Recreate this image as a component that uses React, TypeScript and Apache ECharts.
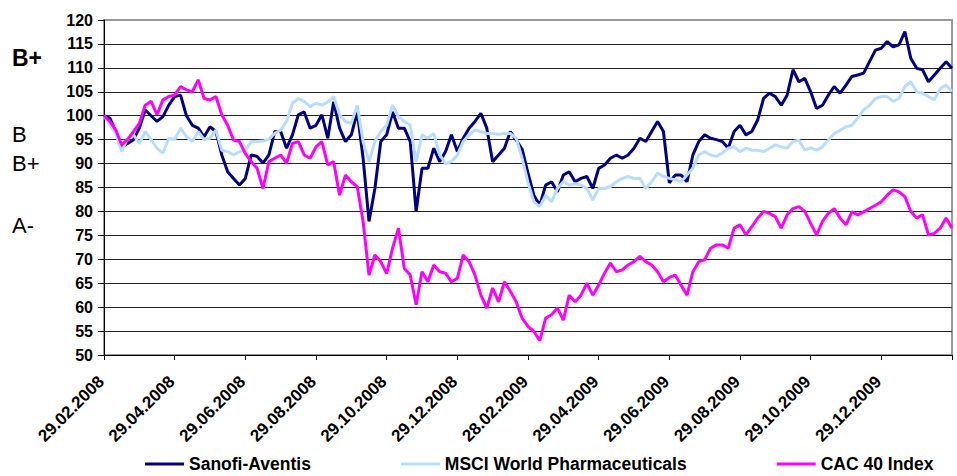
import React, { useEffect, useRef } from "react";
import * as echarts from "echarts";

const tickLabels = [
  "29.02.2008", "29.04.2008", "29.06.2008", "29.08.2008", "29.10.2008", "29.12.2008",
  "28.02.2009", "29.04.2009", "29.06.2009", "29.08.2009", "29.10.2009", "29.12.2009",
];

const seriesNames = ["Sanofi-Aventis", "MSCI World Pharmaceuticals", "CAC 40 Index"];

const sanofi = [
  100, 99.5, 96.7, 93.5, 94.2, 95, 97.4, 101.2, 100, 98.8, 99.8, 102.2, 104,
  104.3, 100, 98, 97.4, 95.6, 97.7, 96.7, 91.8, 88.3, 86.9, 85.5, 86.9,
  91.8, 91.5, 90.1, 91.8, 96.7, 96.7, 93.2, 96, 100.2, 100.8, 97.4, 98,
  100.2, 95.3, 102.9, 97.4, 94.6, 96, 100.8, 91.1, 77.9, 84.8, 94.6, 96,
  100.8, 97.4, 97.4, 94.6, 80, 89, 89, 93.2, 90.4, 92.5, 96, 92.5,
  95.3, 97.4, 98.8, 100.5, 97.4, 90.4, 91.8, 93.2, 96.7, 94.9, 93, 88,
  83.4, 81.3, 85.5, 86.2, 84.1, 87.6, 88.3, 86.2, 86.9, 87.3, 84.8, 89,
  89.7, 91.1, 91.8, 91.1, 91.8, 93.2, 95.3, 94.6, 96.7, 98.8, 96.7, 86,
  87.6, 87.6, 86.2, 91.8, 94.6, 96, 95.3, 95, 94.6, 93.2, 96.7, 98,
  96, 96.7, 99.1, 103.6, 104.7, 104, 102.2, 104.3, 109.6, 107.1, 107.8, 105,
  101.5, 102.2, 104.3, 106.1, 104.7, 106.4, 108.2, 108.5, 108.9, 111.3, 113.7, 114.1,
  115.5, 114.4, 114.8, 117.6, 112, 109.9, 109.6, 107.1, 108.5, 109.9, 111.3, 109.9,
];

const msci = [
  100, 98, 96.3, 92.5, 95.3, 96, 94.2, 96.7, 95, 93.2, 92.2, 95.3, 95,
  97.4, 95.6, 94.6, 96.7, 95, 95.3, 97, 92.8, 92.5, 91.8, 92.5, 92.8,
  94.6, 94.6, 94.7, 95.1, 96.3, 97, 98.8, 102.6, 103.6, 103, 101.9, 102.6,
  102.2, 102.9, 104, 100.2, 98.8, 98.4, 102.2, 94.6, 90.4, 94.6, 96.7, 98,
  102.2, 99.8, 98.8, 98, 90.4, 96, 95.3, 96.3, 91.8, 90, 90.4, 91.8,
  94.6, 96, 97, 96.7, 96.3, 96.3, 96.1, 96.3, 96.3, 95.3, 91.1, 86,
  82, 81, 83.4, 82, 84.8, 86.2, 85.5, 85.8, 85.5, 84.8, 82.4, 84.8,
  84.8, 85.2, 86.2, 86.9, 87.3, 86.9, 86.9, 84.8, 86.2, 88, 87.3, 86.9,
  86.6, 86.2, 87.6, 89, 91.8, 92.5, 91.8, 91.5, 92.2, 93.2, 93.5, 92.5,
  93.2, 92.8, 92.8, 92.5, 93.2, 93.9, 93.5, 93.2, 94.6, 94.9, 92.8, 93.3,
  92.8, 93.5, 94.9, 96.3, 97, 97.7, 98, 99.5, 101.2, 102.2, 103.6, 104,
  104, 103, 103.6, 106.1, 107.1, 105, 104.7, 104, 103.3, 105.7, 106.4, 105,
];

const cac40 = [
  100, 98.8, 97, 93.9, 95, 96.7, 98.4, 102.2, 103, 100.2, 103.3, 104, 104.3,
  106.1, 105.4, 105, 107.5, 103.6, 103.3, 104, 100.2, 98, 94.9, 94.6, 92.1,
  90.4, 89, 84.8, 90.4, 91.1, 91.8, 90.1, 94.2, 94.6, 91.8, 91.1, 93.5,
  94.6, 89.7, 90.4, 83.4, 87.6, 86.2, 85.2, 77.9, 66.7, 70.9, 69.5, 67,
  72.3, 76.5, 68.1, 66.7, 60.5, 67.4, 65.3, 68.8, 67.4, 67.1, 65.3, 66,
  70.9, 69.5, 66.7, 62.5, 59.8, 64, 61.1, 65.3, 63.3, 61.1, 57.7, 56,
  54.9, 53, 57.7, 58.4, 59.8, 57.3, 62.5, 61.1, 62.5, 65, 62.5, 64.6,
  67.1, 69.2, 67.4, 67.8, 68.8, 69.5, 70.6, 69.5, 68.8, 67.4, 65.3, 66.2,
  66.7, 64.6, 62.5, 67.4, 69.5, 69.9, 72.3, 73, 73, 72.3, 76.5, 77.2,
  75.1, 76.8, 78.6, 80, 79.6, 78.9, 76.5, 79.3, 80.6, 81, 80, 77.5,
  75.1, 77.9, 79.6, 80.6, 78.6, 77.2, 79.9, 79.3, 79.9, 80.6, 81.3, 82,
  83.4, 84.5, 84.1, 83.1, 80, 78.6, 79.3, 75.1, 75.4, 76.5, 78.6, 76.5,
];

const ratingLabels = ["B+", "B", "B+", "A-"];

const colors = ["#000080", "#B9DCFF", "#FF00FF"];
const FONT = "'Liberation Sans', Arial, sans-serif";

export default function App() {
  const ref = useRef<HTMLDivElement>(null);
  useEffect(() => {
    if (!ref.current) return;
    const chart = echarts.init(ref.current, null, { renderer: "svg" });
    const allSeries = [sanofi, msci, cac40];
    const pointsPerTick = 12;
    const nPoints = sanofi.length - 1;
    const gridColors = Array.from({ length: 15 }, (_, i) => (i === 14 ? "#9a9a9a" : "#222"));
    chart.setOption({
      animation: false,
      grid: {
        left: 104, right: 5, top: 20, bottom: 121,
        show: true, borderColor: "#9a9a9a", borderWidth: 2, backgroundColor: "transparent",
      },
      xAxis: {
        type: "value", min: 0, max: nPoints, interval: pointsPerTick,
        axisLine: { show: true, lineStyle: { color: "#000", width: 1 } },
        axisTick: { show: true, length: 5, lineStyle: { color: "#000" } },
        splitLine: { show: false },
        axisLabel: {
          rotate: 45, margin: 21, fontSize: 17, fontWeight: "bold", fontFamily: FONT, color: "#000",
          padding: [0, 4, 0, 0],
          formatter: (v: number) => tickLabels[Math.round(v / pointsPerTick)] || "",
        },
      },
      yAxis: {
        type: "value", min: 50, max: 120, interval: 5,
        axisLine: { show: true, lineStyle: { color: "#000", width: 1 } },
        axisTick: { show: true, length: 6, lineStyle: { color: "#000" } },
        splitLine: { show: true, lineStyle: { color: gridColors, width: 1 } },
        axisLabel: { margin: 11, fontSize: 16, fontWeight: "bold", fontFamily: FONT, color: "#000" },
      },
      legend: {
        show: true, left: 145, top: 455, itemGap: 90, itemWidth: 39, itemHeight: 3, icon: "rect", padding: 0,
        textStyle: { fontSize: 17.5, fontWeight: "bold", fontFamily: FONT, color: "#000" },
        data: seriesNames,
      },
      graphic: [
        { type: "text", left: 12, top: 46, style: { text: ratingLabels[0], font: `bold 23px ${FONT}`, fill: "#000" } },
        { type: "text", left: 12, top: 123, style: { text: ratingLabels[1], font: `22px ${FONT}`, fill: "#000" } },
        { type: "text", left: 12, top: 152, style: { text: ratingLabels[2], font: `22px ${FONT}`, fill: "#000" } },
        { type: "text", left: 12, top: 214, style: { text: ratingLabels[3], font: `22px ${FONT}`, fill: "#000" } },
      ],
      series: allSeries.map((vals, s) => ({
        name: seriesNames[s],
        type: "line",
        data: vals.map((v, i) => [i, v]),
        showSymbol: false,
        symbol: "none",
        lineStyle: { color: colors[s], width: 3 },
        itemStyle: { color: colors[s] },
      })),
    });
    return () => chart.dispose();
  }, []);
  return (
    <div
      ref={ref}
      style={{ position: "fixed", left: 0, top: 0, width: 957, height: 476, background: "#fff" }}
    />
  );
}
